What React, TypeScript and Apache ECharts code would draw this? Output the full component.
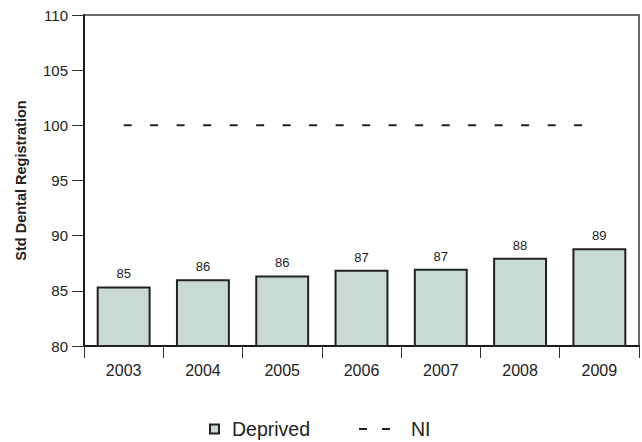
import React, { useEffect, useRef } from "react";
import * as echarts from "echarts";

const years = ["2003", "2004", "2005", "2006", "2007", "2008", "2009"];
const deprived = [85.4, 86.05, 86.4, 86.9, 87.0, 88.0, 88.85];
const deprivedLabels = ["85", "86", "86", "87", "87", "88", "89"];
const ni = [100, 100, 100, 100, 100, 100, 100];

const FONT = "'Liberation Sans', Arial, sans-serif";

export default function App() {
  const ref = useRef<HTMLDivElement>(null);
  useEffect(() => {
    document.body.style.margin = "0";
    const chart = echarts.init(ref.current!, null, { renderer: "svg" });
    chart.setOption({
      animation: false,
      textStyle: { fontFamily: FONT },
      grid: {
        left: 84,
        right: 3,
        top: 15,
        bottom: 96,
        show: true,
        borderColor: "#3a3a3a",
        borderWidth: 1.5,
      },
      legend: [
        {
          data: ["Deprived"],
          left: 209,
          top: 419,
          padding: 0,
          itemWidth: 9,
          itemHeight: 9,
          icon: "rect",
          textStyle: { fontSize: 19.5, color: "#222", fontFamily: FONT, padding: [0, 0, 0, 8] },
        },
        {
          data: [{ name: "NI", icon: "path://M0,0h8v2h-8zM23,0h8v2h-8z" }],
          left: 359,
          top: 419,
          padding: 0,
          itemWidth: 31,
          itemHeight: 2,
          itemStyle: { color: "#222" },
          textStyle: { fontSize: 19.5, color: "#222", fontFamily: FONT, padding: [0, 0, 0, 16] },
        },
      ],
      xAxis: {
        type: "category",
        data: years,
        boundaryGap: true,
        axisLine: { lineStyle: { color: "#1a1a1a", width: 2 } },
        axisTick: { show: true, length: 12, inside: false, lineStyle: { color: "#333", width: 1 } },
        axisLabel: { fontSize: 16, color: "#222", margin: 16, fontFamily: FONT },
      },
      yAxis: {
        type: "value",
        min: 80,
        max: 110,
        interval: 5,
        name: "Std Dental Registration",
        nameLocation: "middle",
        nameGap: 56,
        nameRotate: 90,
        nameTextStyle: { fontSize: 14.5, fontWeight: "bold", color: "#222", fontFamily: FONT },
        splitLine: { show: false },
        axisLine: { show: true, lineStyle: { color: "#1a1a1a", width: 2 } },
        axisTick: { show: true, length: 12, lineStyle: { color: "#333", width: 1 } },
        axisLabel: { fontSize: 15, color: "#222", margin: 16, fontFamily: FONT },
      },
      series: [
        {
          name: "Deprived",
          type: "bar",
          data: deprived,
          barWidth: "68%",
          itemStyle: { color: "#c9d9d5", borderColor: "#222", borderWidth: 2 },
          label: {
            show: true,
            position: "top",
            distance: 6,
            fontSize: 13,
            color: "#222",
            fontFamily: FONT,
            formatter: (p: any) => deprivedLabels[p.dataIndex],
          },
          z: 2,
        },
        {
          name: "NI",
          type: "line",
          data: ni,
          symbol: "none",
          lineStyle: { color: "#222", width: 2, type: [8, 18.5] },
          itemStyle: { color: "#222" },
          z: 3,
        },
      ],
    });
    return () => chart.dispose();
  }, []);
  return <div ref={ref} style={{ width: 642, height: 442 }} />;
}
